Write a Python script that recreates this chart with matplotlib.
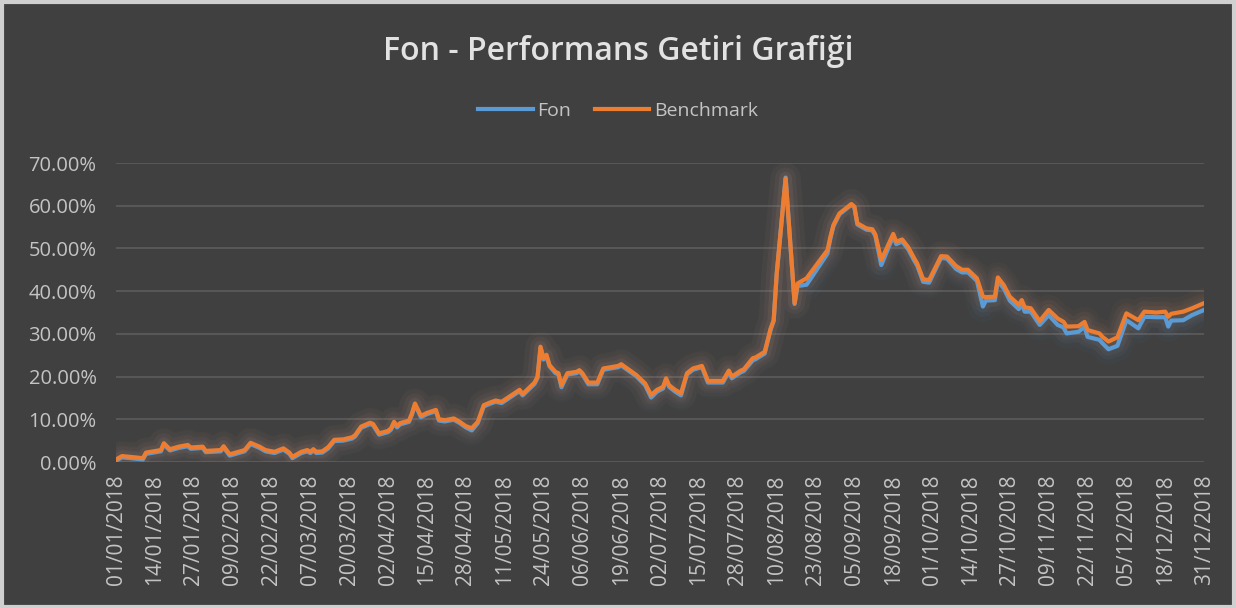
import matplotlib
matplotlib.use("Agg")
import matplotlib.pyplot as plt
from matplotlib.patches import Rectangle
from matplotlib.ticker import FuncFormatter
import pandas as pd

# day offsets from 01/01/2018
days = [0, 2, 9, 10, 15, 16, 18, 21, 24, 25, 29, 30, 35, 36, 38, 41, 43, 45, 48, 50,
        53, 56, 58, 59, 62, 64, 65, 66, 67, 69, 71, 73, 76, 79, 80, 82, 85, 86, 88, 91,
        92, 93, 94, 95, 98, 99, 100, 102, 104, 107, 108, 110, 113, 115, 117, 119, 121, 123, 125, 127,
        129, 132, 135, 136, 140, 141, 142, 143, 144, 145, 147, 148, 149, 151, 154, 155, 156, 158, 161, 163,
        168, 169, 174, 177, 179, 181, 183, 184, 185, 187, 189, 191, 193, 196, 198, 203, 205, 206, 209, 210,
        213, 214, 217, 218, 219, 220, 221, 224, 227, 228, 231, 238, 239, 240, 242, 246, 247, 248, 251, 253,
        254, 256, 260, 261, 263, 265, 267, 268, 270, 272, 276, 278, 281, 283, 285, 288, 290, 291, 294, 295,
        297, 299, 302, 303, 304, 306, 309, 312, 315, 317, 318, 322, 324, 325, 329, 330, 332, 335, 338, 342,
        344, 348, 351, 352, 353, 357, 360, 364]

benchmark = [0.6, 1.4, 0.9, 2.2, 2.8, 4.4, 3.0, 3.6, 4.0, 3.4, 3.6, 2.6, 2.8, 3.7, 1.8, 2.4, 2.8, 4.5, 3.6, 2.8,
             2.4, 3.2, 2.2, 1.2, 2.4, 2.8, 2.4, 3.0, 2.4, 2.5, 3.5, 5.2, 5.3, 5.8, 6.3, 8.3, 9.2, 8.9, 6.7, 7.3,
             7.9, 9.4, 8.4, 9.1, 9.7, 11.4, 13.7, 10.8, 11.5, 12.2, 10.0, 9.8, 10.2, 9.4, 8.4, 7.9, 9.4, 13.3, 13.9, 14.4,
             14.1, 15.5, 16.9, 15.9, 18.6, 20.0, 27.0, 24.3, 25.1, 22.7, 21.1, 20.8, 18.0, 20.8, 21.1, 21.5, 20.8, 18.6, 18.6, 21.9,
             22.5, 22.9, 20.4, 18.4, 15.7, 16.9, 17.6, 19.6, 18.0, 16.9, 16.1, 20.8, 21.9, 22.5, 19.0, 19.0, 21.4, 20.0, 21.4, 21.7,
             24.3, 24.5, 25.8, 28.6, 31.3, 33.2, 44.0, 66.4, 37.2, 41.8, 43.0, 49.6, 52.8, 55.5, 58.2, 60.4, 59.8, 55.9, 54.7, 54.5,
             53.3, 47.3, 53.4, 51.6, 52.1, 50.3, 47.7, 46.5, 42.8, 42.6, 48.2, 48.1, 45.9, 45.0, 45.0, 43.0, 38.7, 38.6, 38.7, 43.2,
             41.4, 38.7, 36.8, 37.9, 36.2, 36.0, 33.0, 35.6, 33.6, 32.8, 31.7, 31.8, 32.8, 30.9, 30.1, 29.3, 28.2, 29.2, 34.8, 33.2,
             35.2, 35.0, 35.2, 34.0, 34.7, 35.2, 36.0, 37.2]

fon = [0.3, 1.1, 0.6, 1.9, 2.5, 4.1, 2.7, 3.3, 3.7, 3.1, 3.3, 2.3, 2.5, 3.4, 1.5, 2.1, 2.5, 4.2, 3.3, 2.5,
       2.1, 2.9, 1.9, 0.9, 2.1, 2.5, 2.1, 2.7, 2.1, 2.2, 3.2, 4.9, 5.0, 5.5, 6.0, 8.0, 8.9, 8.6, 6.4, 7.0,
       7.6, 9.1, 8.1, 8.8, 9.4, 11.1, 13.4, 10.5, 11.2, 11.9, 9.7, 9.5, 9.9, 9.1, 8.1, 7.4, 9.1, 13.0, 13.6, 14.1,
       13.8, 15.2, 16.6, 15.6, 18.3, 19.7, 26.7, 24.0, 24.8, 22.4, 20.8, 20.5, 17.5, 20.5, 20.8, 21.2, 20.5, 18.2, 18.2, 21.6,
       22.2, 22.6, 20.1, 18.0, 15.1, 16.5, 17.2, 19.3, 17.6, 16.5, 15.6, 20.5, 21.6, 22.2, 18.6, 18.6, 21.1, 19.6, 21.0, 21.3,
       23.8, 24.1, 25.4, 28.3, 31.0, 33.0, 43.8, 66.6, 37.0, 41.2, 41.5, 48.8, 52.4, 55.2, 58.0, 60.2, 59.6, 55.6, 54.4, 54.2,
       53.0, 46.1, 52.9, 51.0, 51.6, 49.8, 47.2, 46.0, 42.2, 42.0, 47.8, 47.6, 45.2, 44.4, 44.4, 42.4, 36.4, 37.8, 37.9, 42.4,
       40.6, 37.8, 35.8, 36.9, 35.2, 35.2, 32.1, 34.4, 32.1, 31.5, 30.1, 30.5, 31.7, 29.3, 28.6, 27.8, 26.4, 27.2, 33.2, 31.3,
       34.0, 33.9, 33.9, 31.7, 33.1, 33.2, 34.4, 35.6]

tick_days = list(range(0, 365, 13))

bg = "#404040"
text_color = "#c4c4c4"
plt.rcParams["font.family"] = ["Open Sans", "DejaVu Sans"]

dates = pd.Timestamp("2018-01-01") + pd.to_timedelta(days, unit="D")
tick_dates = pd.Timestamp("2018-01-01") + pd.to_timedelta(tick_days, unit="D")

fig = plt.figure(figsize=(12.36, 6.08), dpi=100, facecolor=bg)
fig.patches.append(Rectangle((0.002, 0.002), 0.996, 0.994, transform=fig.transFigure,
                             fill=False, edgecolor="#d0d0d0", linewidth=3))
ax = fig.add_axes([0.0939, 0.2401, 0.8803, 0.4918])
ax.set_facecolor(bg)

series = [("Fon", fon, "#5B9BD5"), ("Benchmark", benchmark, "#ED7D31")]
# soft glow under the lines
for name, vals, color in series:
    y = [v / 100 for v in vals]
    for w, a in [(22, 0.035), (15, 0.05), (9, 0.07)]:
        ax.plot(dates, y, color=color, linewidth=w, alpha=a, solid_capstyle="round",
                solid_joinstyle="round", zorder=2)
for name, vals, color in series:
    y = [v / 100 for v in vals]
    ax.plot(dates, y, color=color, linewidth=3.0, label=name, solid_joinstyle="round", zorder=3)

ax.set_ylim(0, 0.7)
ax.set_yticks([i / 10 for i in range(8)])
ax.yaxis.set_major_formatter(FuncFormatter(lambda v, p: f"{v * 100:.2f}%"))
ax.set_xlim(tick_dates[0], tick_dates[-1])
ax.set_xticks(tick_dates)
ax.set_xticklabels([d.strftime("%d/%m/%Y") for d in tick_dates], rotation=90)
ax.grid(axis="y", color="#5a5a5a", linewidth=1.3)
ax.set_axisbelow(True)
for s in ax.spines.values():
    s.set_visible(False)
ax.tick_params(axis="both", length=0, colors=text_color)
ax.tick_params(axis="x", pad=9, labelsize=15)
ax.tick_params(axis="y", pad=14, labelsize=14.5)

fig.text(0.5, 0.901, "Fon - Performans Getiri Grafiği", ha="center", va="baseline",
         color="#e2e2e2", fontsize=23, fontweight="semibold")
leg = fig.legend(loc="center", bbox_to_anchor=(0.5, 0.817), ncol=2, frameon=False,
                 fontsize=14, handlelength=2.8, handletextpad=0.25, columnspacing=1.2)
for t in leg.get_texts():
    t.set_color(text_color)

fig.savefig("out.png", dpi=100, facecolor=bg)
